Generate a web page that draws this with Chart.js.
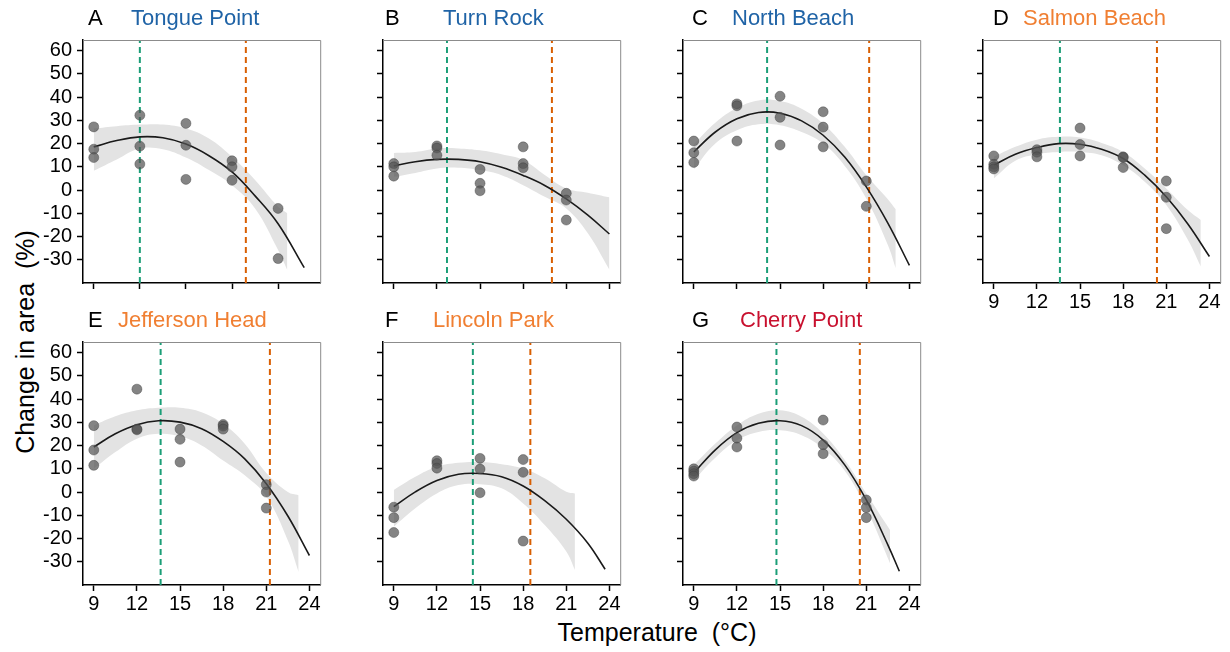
<!DOCTYPE html>
<html>
<head>
<meta charset="utf-8">
<script src="https://cdn.jsdelivr.net/npm/chart.js@4.4.1/dist/chart.umd.min.js"></script>
<style>
  body { margin: 0; background: #fff; width: 1230px; height: 652px; position: relative; overflow: hidden; }
  canvas { position: absolute; }
  .axis-title { position: absolute; font-family: "Liberation Sans", Arial, sans-serif; font-size: 25px; color: #000; white-space: pre; }
</style>
</head>
<body>
<div class="axis-title" id="ytitle">Change in area  (%)</div>
<div class="axis-title" id="xtitle">Temperature  (°C)</div>
<script>
// Panel labels and site names
const letters = ['A', 'B', 'C', 'D', 'E', 'F', 'G'];
const sites = ['Tongue Point', 'Turn Rock', 'North Beach', 'Salmon Beach', 'Jefferson Head', 'Lincoln Park', 'Cherry Point'];
const siteColors = ['#1f63a6', '#1f63a6', '#1f63a6', '#f07f32', '#f07f32', '#f07f32', '#c8102e'];

// Tick labels
const yTicks = [-30, -20, -10, 0, 10, 20, 30, 40, 50, 60];
const xTicks = [9, 12, 15, 18, 21, 24];

// Optimum (green) and zero-change (orange) temperatures
const optTemps = [12.0, 12.7, 14.1, 13.6, 13.65, 14.5, 14.75];
const zeroTemps = [18.9, 20.0, 21.2, 20.35, 21.25, 18.5, 20.55];

// Observed changes, grouped by treatment temperature
const obsTemps = [9, 12, 15, 18, 21];
const obsA = [[27.2, 17.6, 14.0], [32.2, 18.9, 11.2], [28.7, 19.3, 4.6], [12.6, 10.0, 4.2], [-7.9, -29.5]];
const obsB = [[11.4, 10.0, 6.0], [19.0, 18.1, 15.0], [8.9, 2.9, -0.3], [18.6, 11.4, 9.6], [-1.4, -4.3, -12.9]];
const obsC = [[21.1, 16.1, 11.9], [37.1, 36.3, 21.1], [40.4, 31.3, 19.4], [33.7, 27.1, 18.6], [3.9, -7.0]];
const obsD = [[14.7, 11.1, 10.0, 9.1], [17.4, 16.3, 14.3], [26.7, 19.6, 14.7], [14.3, 14.0, 9.7], [3.9, -3.1, -16.6]];
const obsE = [[28.6, 18.1, 11.5], [44.3, 27.1, 26.8], [27.1, 22.7, 12.9], [29.1, 28.4, 27.1], [3.2, 0.0, -6.9]];
const obsF = [[-6.5, -11.0, -17.4], [13.5, 12.3, 10.3], [14.5, 9.9, -0.3], [14.0, 8.5, -21.1], []];
const obsG = [[10.0, 9.0, 7.9, 6.9], [28.0, 23.2, 19.4], [], [31.0, 20.4, 16.5], [-3.4, -6.7, -11.0]];

// Fitted curves
const fitTempsA = [9, 10.5, 12, 13.5, 15, 16.5, 18, 19.5, 21, 22.7];
const fitA = [18.6, 21.3, 22.9, 22.5, 19.8, 14.8, 7.8, -2.5, -14.5, -33.4];
const fitTempsB = [9, 10.5, 12, 13.5, 15, 16.5, 18, 19.5, 21, 22.5, 24];
const fitB = [10.4, 12.2, 13.2, 13.2, 12.2, 9.8, 6.3, 2.0, -3.8, -10.8, -18.9];
const fitTempsC = [9, 10.5, 12, 13.5, 15, 16.5, 18, 19.5, 21, 22.5, 24];
const fitC = [16.4, 25.0, 30.7, 33.4, 33.1, 29.8, 23.6, 14.2, 1.4, -14.2, -32.4];
const fitTempsD = [9, 10.5, 12, 13.5, 15, 16.5, 18, 19.5, 21, 22.5, 24];
const fitD = [10.7, 15.4, 18.3, 20.0, 19.7, 17.6, 13.6, 6.4, -2.9, -14.6, -28.6];
const fitTempsE = [9, 10.5, 12, 13.5, 15, 16.5, 18, 19.5, 21, 22.5, 24];
const fitE = [19.4, 25.1, 29.0, 30.7, 30.1, 27.3, 21.8, 14.3, 3.6, -10.3, -27.3];
const fitTempsF = [9, 10.5, 12, 13.5, 15, 16.5, 18, 19.5, 21, 22.5, 23.7];
const fitF = [-6.3, 0.1, 5.0, 7.7, 8.0, 6.6, 2.6, -3.7, -11.7, -22.0, -33.2];
const fitTempsG = [9, 10.5, 12, 13.5, 15, 16.5, 18, 19.5, 21, 22.5, 23.3];
const fitG = [8.2, 18.2, 25.6, 29.6, 30.7, 28.6, 22.4, 11.7, -3.4, -22.7, -34.1];

// Confidence bands
const bandTempsA = [9, 10.5, 12, 13.5, 15, 16.5, 18, 19.5, 21, 21.6];
const upperA = [26.5, 27.5, 28.2, 28.2, 26.5, 22.2, 14.3, 4.3, -7.2, -10.0];
const lowerA = [8.3, 13.2, 17.9, 17.6, 14.0, 8.6, 2.1, -7.9, -25.8, -34.4];
const bandTempsB = [9, 10.5, 12, 13.5, 15, 16.5, 18, 19.5, 21, 22.5, 24];
const upperB = [16.0, 16.4, 17.9, 17.9, 17.1, 15.4, 12.9, 6.5, 0.7, -1.1, -3.1];
const lowerB = [5.7, 7.4, 9.3, 9.6, 8.6, 6.4, 2.1, -2.9, -7.9, -18.6, -34.3];
const bandTempsC = [9, 10.5, 12, 13.5, 15, 16.5, 18, 19.5, 21, 22.5, 23.05];
const upperC = [19.7, 29.0, 35.3, 38.6, 38.3, 35.0, 28.6, 18.6, 6.4, -3.9, -8.3];
const lowerC = [8.9, 20.0, 25.7, 28.3, 27.9, 25.0, 20.0, 10.4, -3.6, -23.6, -33.6];
const bandTempsD = [9, 10.5, 12, 13.5, 15, 16.5, 18, 19.5, 21, 22.5, 23.4];
const upperD = [14.3, 18.6, 21.7, 22.9, 22.6, 20.3, 16.4, 9.3, 0.7, -8.6, -12.9];
const lowerD = [5.0, 12.6, 15.4, 16.4, 16.4, 15.0, 10.7, 3.6, -6.4, -21.4, -32.9];
const bandTempsE = [9, 10.5, 12, 13.5, 15, 16.5, 18, 19.5, 21, 22.5, 23.25];
const upperE = [28.7, 32.6, 35.2, 36.3, 36.3, 34.4, 29.4, 20.8, 8.2, 0.0, -1.4];
const lowerE = [10.0, 17.2, 23.0, 25.1, 24.0, 20.1, 13.6, 7.2, -1.9, -20.8, -34.4];
const bandTempsF = [9, 10.5, 12, 13.5, 15, 16.5, 18, 19.5, 21, 21.6];
const upperF = [0.9, 6.6, 10.9, 12.6, 12.9, 12.0, 10.1, 5.9, 0.1, -0.6];
const lowerF = [-14.9, -7.0, -0.6, 3.0, 3.4, 1.6, -4.9, -14.2, -25.6, -33.5];
const bandTempsG = [9, 10.5, 12, 13.5, 15, 16.5, 18, 19.5, 21, 22.65];
const upperG = [11.6, 20.9, 28.7, 33.7, 35.2, 32.4, 25.2, 13.8, -0.6, -16.3];
const lowerG = [5.1, 14.8, 22.3, 25.9, 26.6, 24.5, 18.8, 9.2, -7.0, -30.6];

const obsAll = [obsA, obsB, obsC, obsD, obsE, obsF, obsG];
const fitTempsAll = [fitTempsA, fitTempsB, fitTempsC, fitTempsD, fitTempsE, fitTempsF, fitTempsG];
const fitAll = [fitA, fitB, fitC, fitD, fitE, fitF, fitG];
const bandTempsAll = [bandTempsA, bandTempsB, bandTempsC, bandTempsD, bandTempsE, bandTempsF, bandTempsG];
const upperAll = [upperA, upperB, upperC, upperD, upperE, upperF, upperG];
const lowerAll = [lowerA, lowerB, lowerC, lowerD, lowerE, lowerF, lowerG];

// Layout: plot-area boxes on the page
const plotLefts = [83, 383, 683, 983, 83, 383, 683];
const plotTops = [39.5, 39.5, 39.5, 39.5, 341.5, 341.5, 341.5];
const plotW = 238, plotH = 243.5;
const titleOffsets = [[5, 48], [2, 60], [9, 49], [10, 40], [5, 35], [2, 50], [9, 57]];
const showYLabels = [true, false, false, false, true, false, false];
const showXLabels = [false, false, false, true, true, true, true];
const Y_MIN = -40, Y_MAX = 64.6;

const FONT = '"Liberation Sans", Arial, sans-serif';
const PAD_L = 50, PAD_T = 40, PAD_R = 5, PAD_B = 32;

const zip = (xs, ys) => xs.map((x, i) => ({ x: x, y: ys[i] }));

// Draws the panel title and the top/right box edges
const panelDecor = {
    id: 'panelDecor',
    afterDraw(chart, args, opts) {
        const ctx = chart.ctx;
        const a = chart.chartArea;
        ctx.save();
        ctx.strokeStyle = '#8c8c8c';
        ctx.lineWidth = 1;
        ctx.beginPath();
        ctx.moveTo(a.left, a.top + 0.5);
        ctx.lineTo(a.right + 0.5, a.top + 0.5);
        ctx.lineTo(a.right + 0.5, a.bottom);
        ctx.stroke();
        ctx.font = '22px ' + FONT;
        ctx.textBaseline = 'middle';
        ctx.fillStyle = '#000';
        ctx.fillText(opts.letter, a.left + opts.offsets[0], a.top - 21);
        ctx.fillStyle = opts.color;
        ctx.fillText(opts.site, a.left + opts.offsets[1], a.top - 21);
        ctx.restore();
    }
};

function makePanel(i) {
    const canvas = document.createElement('canvas');
    const w = plotW + PAD_L + PAD_R;
    const h = plotH + PAD_T + PAD_B;
    canvas.width = w;
    canvas.height = h;
    canvas.style.left = (plotLefts[i] - PAD_L) + 'px';
    canvas.style.top = (plotTops[i] - PAD_T) + 'px';
    canvas.style.width = w + 'px';
    canvas.style.height = h + 'px';
    document.body.appendChild(canvas);

    // Tongue Point has its own temperature range
    const xMin = i === 0 ? 8.3 : 8.25;
    const xMax = i === 0 ? 23.74 : 24.75;
    const panelXTicks = xTicks.filter(t => t <= xMax);

    const points = [];
    obsAll[i].forEach((vals, k) => {
        vals.forEach(v => points.push({ x: obsTemps[k], y: v }));
    });

    const vline = (t, color) => ({
        type: 'line',
        data: [{ x: t, y: Y_MIN }, { x: t, y: Y_MAX }],
        borderColor: color,
        borderWidth: 2,
        borderDash: [6, 4],
        pointRadius: 0,
        fill: false
    });

    new Chart(canvas, {
        type: 'scatter',
        data: {
            datasets: [
                {
                    type: 'scatter',
                    data: points,
                    pointRadius: 5,
                    backgroundColor: 'rgba(85, 85, 85, 0.72)',
                    borderColor: 'rgba(60, 60, 60, 0.5)',
                    borderWidth: 0.8
                },
                {
                    type: 'line',
                    data: zip(fitTempsAll[i], fitAll[i]),
                    borderColor: '#1a1a1a',
                    borderWidth: 1.6,
                    pointRadius: 0,
                    tension: 0.4,
                    fill: false
                },
                vline(optTemps[i], '#1b9e77'),
                vline(zeroTemps[i], '#d95f02'),
                {
                    type: 'line',
                    data: zip(bandTempsAll[i], upperAll[i]),
                    borderWidth: 0,
                    borderColor: 'rgba(0,0,0,0)',
                    pointRadius: 0,
                    tension: 0.4,
                    backgroundColor: '#e3e3e3',
                    fill: '+1'
                },
                {
                    type: 'line',
                    data: zip(bandTempsAll[i], lowerAll[i]),
                    borderWidth: 0,
                    borderColor: 'rgba(0,0,0,0)',
                    pointRadius: 0,
                    tension: 0.4,
                    fill: false
                }
            ]
        },
        options: {
            responsive: false,
            animation: false,
            devicePixelRatio: 1,
            layout: { padding: { left: 0, top: PAD_T, right: PAD_R, bottom: 0 } },
            plugins: {
                legend: { display: false },
                tooltip: { enabled: false },
                panelDecor: {
                    letter: letters[i],
                    site: sites[i],
                    color: siteColors[i],
                    offsets: titleOffsets[i]
                }
            },
            scales: {
                x: {
                    type: 'linear',
                    min: xMin,
                    max: xMax,
                    afterBuildTicks: s => { s.ticks = panelXTicks.map(v => ({ value: v })); },
                    afterFit: s => { s.height = PAD_B; },
                    border: { color: '#000', width: 1.5 },
                    grid: { drawOnChartArea: false, drawTicks: true, tickLength: 6, tickColor: '#000', tickWidth: 1.5 },
                    ticks: {
                        color: showXLabels[i] ? '#000' : 'rgba(0,0,0,0)',
                        font: { family: FONT, size: 20 },
                        padding: 1,
                        maxRotation: 0
                    }
                },
                y: {
                    type: 'linear',
                    min: Y_MIN,
                    max: Y_MAX,
                    afterBuildTicks: s => { s.ticks = yTicks.map(v => ({ value: v })); },
                    afterFit: s => { s.width = PAD_L; },
                    border: { color: '#000', width: 1.5 },
                    grid: { drawOnChartArea: false, drawTicks: true, tickLength: 6, tickColor: '#000', tickWidth: 1.5 },
                    ticks: {
                        color: showYLabels[i] ? '#000' : 'rgba(0,0,0,0)',
                        font: { family: FONT, size: 20 },
                        padding: 5
                    }
                }
            }
        },
        plugins: [panelDecor]
    });
}

for (let i = 0; i < letters.length; i++) makePanel(i);

// Shared axis titles
const yt = document.getElementById('ytitle');
yt.style.left = '25px';
yt.style.top = '342px';
yt.style.transform = 'translate(-50%, -50%) rotate(-90deg)';
const xt = document.getElementById('xtitle');
xt.style.left = '657px';
xt.style.top = '632px';
xt.style.transform = 'translate(-50%, -50%)';
</script>
</body>
</html>
